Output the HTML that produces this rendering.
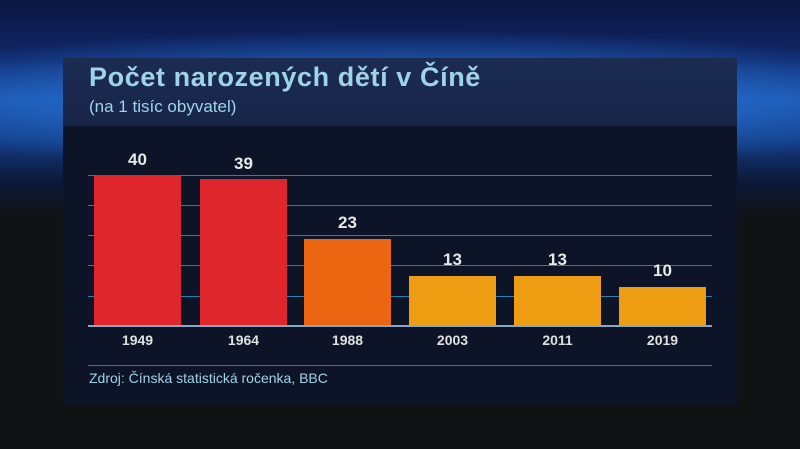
<!DOCTYPE html>
<html><head><meta charset="utf-8"><style>
body{margin:0;width:800px;height:449px;overflow:hidden;background:#111214;font-family:"Liberation Sans",sans-serif;position:relative}
.bg{position:absolute;left:0;top:0;width:800px;height:449px;
background:
radial-gradient(ellipse 600px 70px at 400px 100px, rgba(80,170,250,0.9) 0%, rgba(40,120,220,0.6) 45%, rgba(20,50,120,0) 100%),
linear-gradient(#0c1640 0px,#10276a 60px,#1a4fa8 100px,#143c85 140px,#0c1a3a 180px,#111214 220px,#111214 449px);}
.panel{position:absolute;left:63px;top:58px;width:674px;height:347px;background:#0d1427}
.head{position:absolute;left:63px;top:58px;width:674px;height:68px;background:linear-gradient(#1b2b52,#18254a)}
.t{position:absolute;left:89px;top:62px;font-size:27px;font-weight:bold;color:#9fd3e8;letter-spacing:0.6px}
.s{position:absolute;left:89px;top:97px;font-size:17px;color:#9fd3e8}
.g{position:absolute;left:88px;width:624px;height:1px;background:#2a7fb0}
.bar{position:absolute;width:87px}
.v{position:absolute;width:87px;text-align:center;color:#e8e8e8;font-size:17px;font-weight:bold}
.y{position:absolute;width:87px;text-align:center;color:#e0e0e0;font-size:14px;font-weight:bold;top:332px}
.src{position:absolute;left:89px;top:370px;font-size:14px;color:#9fd3e8}
</style></head><body>
<div class="bg"></div>
<div class="panel"></div><div class="head"></div>
<div class="t">Počet narozených dětí v Číně</div>
<div class="s">(na 1 tisíc obyvatel)</div>
<div class="g" style="top:175px"></div>
<div class="g" style="top:205px"></div>
<div class="g" style="top:235px"></div>
<div class="g" style="top:265px"></div>
<div class="g" style="top:296px"></div>
<div class="bar" style="left:94px;top:175px;height:150px;background:#e0262d"></div>
<div class="bar" style="left:200px;top:179px;height:146px;background:#e0262d"></div>
<div class="bar" style="left:304px;top:239px;height:86px;background:#ec6511"></div>
<div class="bar" style="left:409px;top:276px;height:49px;background:#ee9c12"></div>
<div class="bar" style="left:514px;top:276px;height:49px;background:#ee9c12"></div>
<div class="bar" style="left:619px;top:287px;height:38px;background:#ee9c12"></div>
<div class="g" style="top:325px;height:2px;background:#8aa6c0"></div>
<div class="v" style="left:94px;top:150px">40</div>
<div class="v" style="left:200px;top:154px">39</div>
<div class="v" style="left:304px;top:213px">23</div>
<div class="v" style="left:409px;top:250px">13</div>
<div class="v" style="left:514px;top:250px">13</div>
<div class="v" style="left:619px;top:261px">10</div>
<div class="y" style="left:94px">1949</div>
<div class="y" style="left:200px">1964</div>
<div class="y" style="left:304px">1988</div>
<div class="y" style="left:409px">2003</div>
<div class="y" style="left:514px">2011</div>
<div class="y" style="left:619px">2019</div>
<div class="g" style="top:365px"></div>
<div class="src">Zdroj: Čínská statistická ročenka, BBC</div>
</body></html>
